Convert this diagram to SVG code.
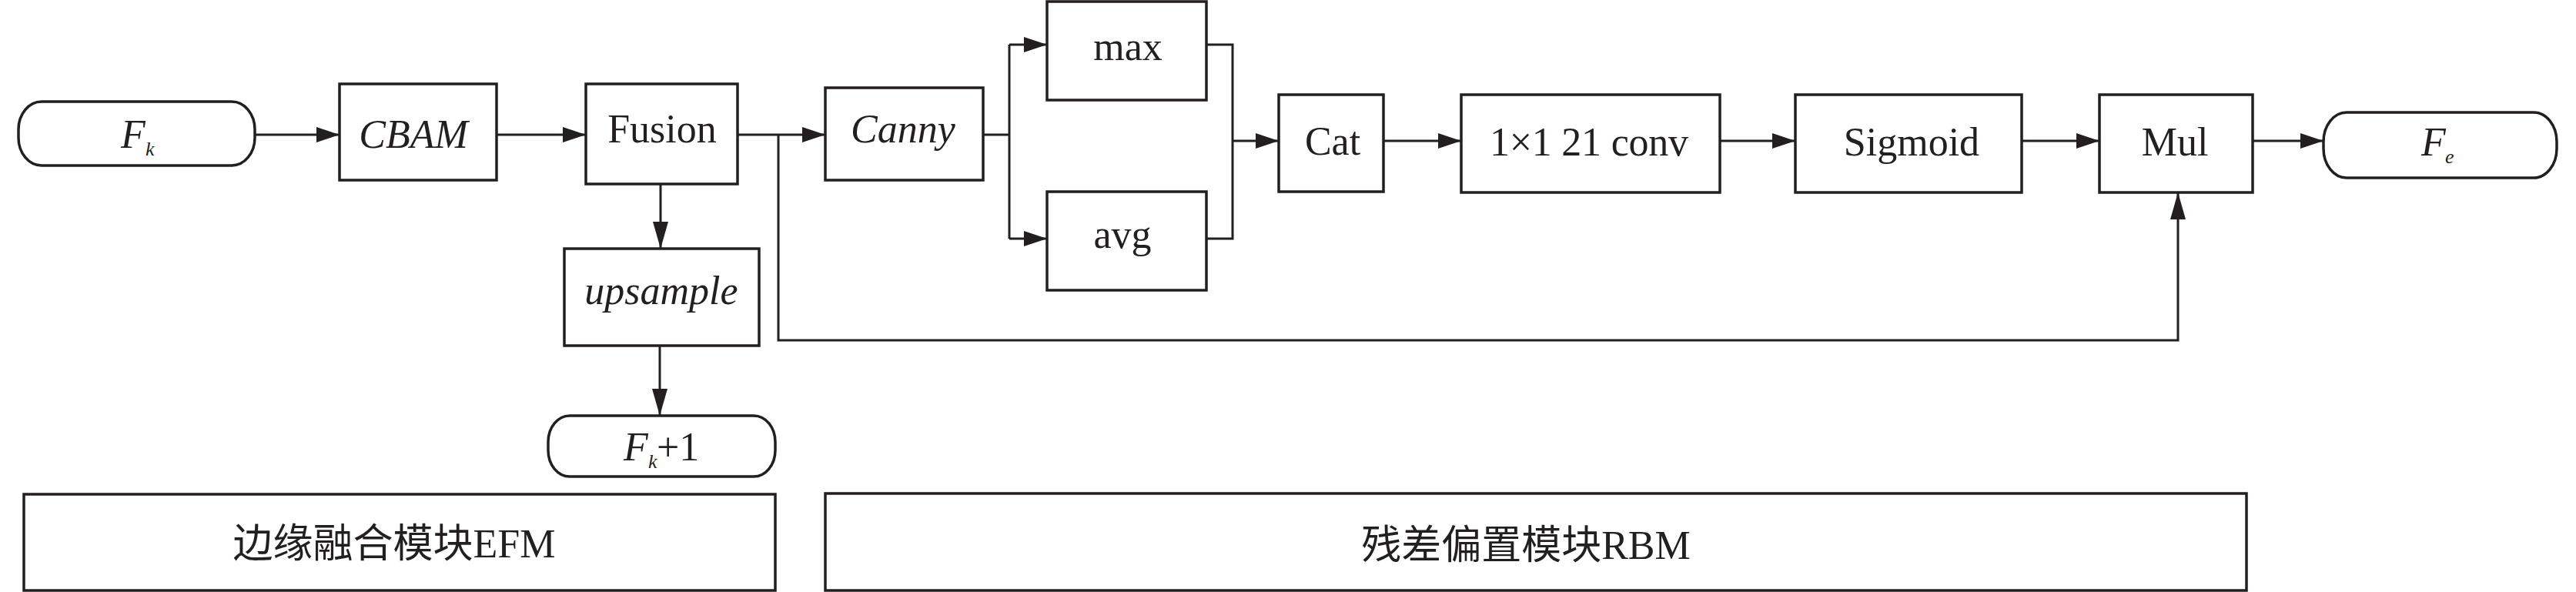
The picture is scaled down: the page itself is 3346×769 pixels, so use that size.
<svg xmlns="http://www.w3.org/2000/svg" width="3346" height="769" viewBox="0 0 3346 769">
<style>
.box{fill:#fff;stroke:#231f20;stroke-width:3.5}
.ln{fill:none;stroke:#231f20;stroke-width:3}
.t{font-family:"Liberation Serif","Times New Roman",serif;font-size:52px;fill:#231f20}
.c{text-anchor:middle}
.i{font-style:italic}
.s{font-size:26px}
.cn{font-family:"Liberation Serif","Noto Sans CJK SC",serif;font-size:52px;fill:#231f20;text-anchor:middle}
</style>
<defs>
<marker id="ah" markerUnits="userSpaceOnUse" markerWidth="30" markerHeight="20" refX="30" refY="10" orient="auto" viewBox="0 0 30 20">
<path d="M0,0 L30,10 L0,20 z" fill="#231f20"/>
</marker>
<marker id="av" markerUnits="userSpaceOnUse" markerWidth="35" markerHeight="20" refX="35" refY="10" orient="auto" viewBox="0 0 35 20">
<path d="M0,0 L35,10 L0,20 z" fill="#231f20"/>
</marker>
</defs>
<g id="connectors">
<line class="ln" x1="331" y1="175" x2="441" y2="175" marker-end="url(#ah)"/>
<line class="ln" x1="645" y1="175" x2="761" y2="175" marker-end="url(#ah)"/>
<line class="ln" x1="958" y1="175" x2="1072" y2="175" marker-end="url(#ah)"/>
<line class="ln" x1="858" y1="239" x2="858" y2="323" marker-end="url(#av)"/>
<line class="ln" x1="857" y1="449" x2="857" y2="540" marker-end="url(#av)"/>
<polyline class="ln" points="1011,175 1011,442 2829,442 2829,250" marker-end="url(#av)"/>
<line class="ln" x1="1277" y1="175" x2="1311" y2="175"/>
<line class="ln" x1="1311" y1="58" x2="1311" y2="310"/>
<line class="ln" x1="1311" y1="58" x2="1360" y2="58" marker-end="url(#ah)"/>
<line class="ln" x1="1311" y1="310" x2="1360" y2="310" marker-end="url(#ah)"/>
<polyline class="ln" points="1567,58 1601,58 1601,310 1567,310"/>
<line class="ln" x1="1601" y1="183" x2="1661" y2="183" marker-end="url(#ah)"/>
<line class="ln" x1="1797" y1="183" x2="1898" y2="183" marker-end="url(#ah)"/>
<line class="ln" x1="2234" y1="183" x2="2332" y2="183" marker-end="url(#ah)"/>
<line class="ln" x1="2626" y1="183" x2="2727" y2="183" marker-end="url(#ah)"/>
<line class="ln" x1="2926" y1="183" x2="3018" y2="183" marker-end="url(#ah)"/>
</g>
<g id="Fk">
<rect class="box" x="24" y="132" width="307" height="83" rx="30" ry="36"/>
<text class="t i" x="157" y="192">F</text><text class="t i s" x="189" y="202">k</text>
</g>
<g id="CBAM">
<rect class="box" x="441" y="109" width="204" height="125"/>
<text class="t c i" x="537" y="192">CBAM</text>
</g>
<g id="Fusion">
<rect class="box" x="761" y="109" width="197" height="130"/>
<text class="t c" x="860" y="185">Fusion</text>
</g>
<g id="upsample">
<rect class="box" x="733" y="323" width="253" height="126"/>
<text class="t c i" x="859" y="395">upsample</text>
</g>
<g id="Fk1">
<rect class="box" x="712" y="540" width="295" height="79" rx="28" ry="34"/>
<text class="t i" x="810" y="598">F</text><text class="t i s" x="842" y="608">k</text><text class="t" x="853" y="598">+1</text>
</g>
<g id="Canny">
<rect class="box" x="1072" y="114" width="205" height="120"/>
<text class="t c i" x="1173" y="185">Canny</text>
</g>
<g id="max">
<rect class="box" x="1360" y="2" width="207" height="128"/>
<text class="t c" x="1465" y="78">max</text>
</g>
<g id="avg">
<rect class="box" x="1360" y="249" width="207" height="128"/>
<text class="t c" x="1458" y="322">avg</text>
</g>
<g id="Cat">
<rect class="box" x="1661" y="123" width="136" height="126"/>
<text class="t c" x="1731" y="201">Cat</text>
</g>
<g id="conv">
<rect class="box" x="1898" y="123" width="336" height="127"/>
<text class="t" x="1935" y="202" textLength="258" lengthAdjust="spacing">1×1 21 conv</text>
</g>
<g id="Sigmoid">
<rect class="box" x="2332" y="123" width="294" height="127"/>
<text class="t c" x="2483" y="202">Sigmoid</text>
</g>
<g id="Mul">
<rect class="box" x="2727" y="123" width="199" height="127"/>
<text class="t c" x="2825" y="202">Mul</text>
</g>
<g id="Fe">
<rect class="box" x="3018" y="146" width="303" height="85" rx="30" ry="38"/>
<text class="t i" x="3145" y="202">F</text><text class="t i s" x="3176" y="212">e</text>
</g>
<g id="EFM">
<rect class="box" x="31" y="642" width="976" height="125"/>
<text class="cn" x="512" y="724">边缘融合模块EFM</text>
</g>
<g id="RBM">
<rect class="box" x="1072" y="641" width="1846" height="126"/>
<text class="cn" x="1982" y="726">残差偏置模块RBM</text>
</g>
</svg>
